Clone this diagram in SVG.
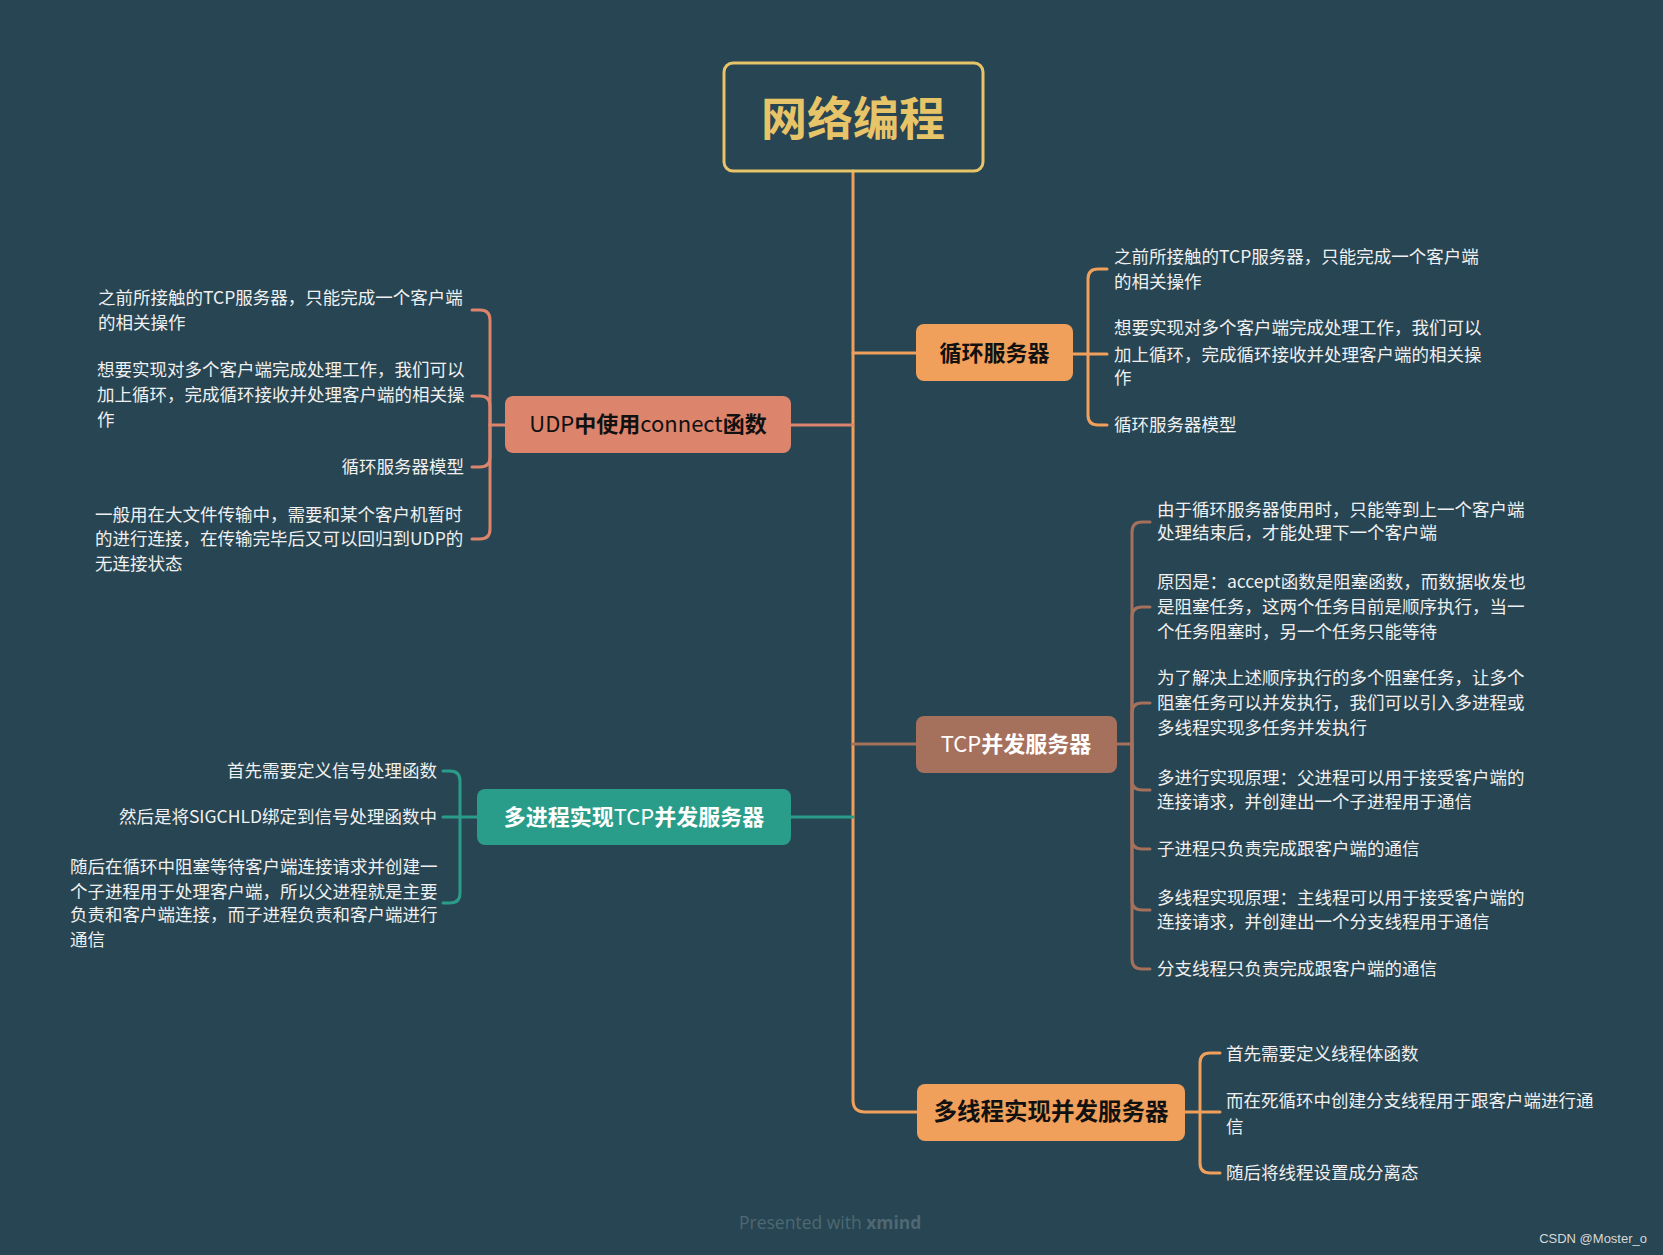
<svg xmlns="http://www.w3.org/2000/svg" width="1663" height="1255" viewBox="0 0 1663 1255">
<style>
.leaf{font-family:"Noto Sans CJK SC","Noto Sans",sans-serif;font-size:17.5px;fill:#f0f0f0}
.topic{font-family:"Noto Sans CJK SC","Noto Sans",sans-serif;text-anchor:middle}
.b{font-weight:bold}
.r{font-weight:normal}
.ln{fill:none;stroke-width:3;stroke-linecap:round}
.or{stroke:#f0a05a}
.sa{stroke:#dc846c}
.br{stroke:#a5705c}
.te{stroke:#2a9d8a}
</style>
<rect width="1663" height="1255" fill="#274552"/>
<g id="connectors">
  <path class="ln or" d="M853 171 V1100 Q853 1112 865 1112 H917"/>
  <path class="ln or" d="M853 353 H916"/>
  <path class="ln sa" d="M853 425 H791"/>
  <path class="ln br" d="M853 744 H916"/>
  <path class="ln te" d="M853 817 H791"/>
  <!-- UDP -->
  <path class="ln sa" d="M505 425 H490"/>
  <path class="ln sa" d="M490 425 V320 Q490 310 480 310 H472"/>
  <path class="ln sa" d="M490 425 V406 Q490 396 480 396 H472"/>
  <path class="ln sa" d="M490 425 V457 Q490 467 480 467 H472"/>
  <path class="ln sa" d="M490 425 V529 Q490 539 480 539 H472"/>
  <!-- 循环服务器 -->
  <path class="ln or" d="M1073 354 H1107"/>
  <path class="ln or" d="M1088 354 V279 Q1088 269 1098 269 H1107"/>
  <path class="ln or" d="M1088 354 V415 Q1088 425 1098 425 H1107"/>
  <!-- TCP -->
  <path class="ln br" d="M1117 744 H1132"/>
  <path class="ln br" d="M1132 744 V532 Q1132 522 1142 522 H1150"/>
  <path class="ln br" d="M1132 744 V617 Q1132 607 1142 607 H1150"/>
  <path class="ln br" d="M1132 744 V713 Q1132 703 1142 703 H1150"/>
  <path class="ln br" d="M1132 744 V780 Q1132 790 1142 790 H1150"/>
  <path class="ln br" d="M1132 744 V839 Q1132 849 1142 849 H1150"/>
  <path class="ln br" d="M1132 744 V900 Q1132 910 1142 910 H1150"/>
  <path class="ln br" d="M1132 744 V959 Q1132 969 1142 969 H1150"/>
  <!-- 多进程 -->
  <path class="ln te" d="M477 817 H443"/>
  <path class="ln te" d="M460 817 V781 Q460 771 450 771 H443"/>
  <path class="ln te" d="M460 817 V893 Q460 903 450 903 H443"/>
  <!-- 多线程 -->
  <path class="ln or" d="M1185 1112 H1220"/>
  <path class="ln or" d="M1200 1112 V1063 Q1200 1053 1210 1053 H1220"/>
  <path class="ln or" d="M1200 1112 V1163 Q1200 1173 1210 1173 H1220"/>
</g>
<g id="root">
  <rect x="724" y="63" width="259" height="108" rx="9" fill="none" stroke="#e8c468" stroke-width="3"/>
  <text class="topic b" x="853" y="135" font-size="46" fill="#e8c468">网络编程</text>
</g>
<g id="udp">
  <rect x="505" y="396" width="286" height="57" rx="8" fill="#dc846c"/>
  <text class="topic" x="648" y="432" font-size="22" fill="#111"><tspan class="r">UDP</tspan><tspan class="b">中使用</tspan><tspan class="r">connect</tspan><tspan class="b">函数</tspan></text>
</g>
<g id="udp-items">
  <text class="leaf" x="98" y="304">之前所接触的TCP服务器，只能完成一个客户端</text>
  <text class="leaf" x="98" y="329">的相关操作</text>
  <text class="leaf" x="97" y="376">想要实现对多个客户端完成处理工作，我们可以</text>
  <text class="leaf" x="97" y="401">加上循环，完成循环接收并处理客户端的相关操</text>
  <text class="leaf" x="97" y="426">作</text>
  <text class="leaf" x="464" y="473" text-anchor="end">循环服务器模型</text>
  <text class="leaf" x="95" y="521">一般用在大文件传输中，需要和某个客户机暂时</text>
  <text class="leaf" x="95" y="545">的进行连接，在传输完毕后又可以回归到UDP的</text>
  <text class="leaf" x="95" y="570">无连接状态</text>
</g>
<g id="loop-server">
  <rect x="916" y="324" width="157" height="57" rx="8" fill="#f0a05a"/>
  <text class="topic b" x="994.5" y="361" font-size="22" fill="#111">循环服务器</text>
</g>
<g id="loop-items">
  <text class="leaf" x="1114" y="263">之前所接触的TCP服务器，只能完成一个客户端</text>
  <text class="leaf" x="1114" y="288">的相关操作</text>
  <text class="leaf" x="1114" y="334">想要实现对多个客户端完成处理工作，我们可以</text>
  <text class="leaf" x="1114" y="361">加上循环，完成循环接收并处理客户端的相关操</text>
  <text class="leaf" x="1114" y="384">作</text>
  <text class="leaf" x="1114" y="431">循环服务器模型</text>
</g>
<g id="tcp">
  <rect x="916" y="716" width="201" height="57" rx="8" fill="#a5705c"/>
  <text class="topic" x="1016" y="752" font-size="22" fill="#fff"><tspan class="r">TCP</tspan><tspan class="b">并发服务器</tspan></text>
</g>
<g id="tcp-items">
  <text class="leaf" x="1157" y="516">由于循环服务器使用时，只能等到上一个客户端</text>
  <text class="leaf" x="1157" y="539">处理结束后，才能处理下一个客户端</text>
  <text class="leaf" x="1157" y="588">原因是：accept函数是阻塞函数，而数据收发也</text>
  <text class="leaf" x="1157" y="613">是阻塞任务，这两个任务目前是顺序执行，当一</text>
  <text class="leaf" x="1157" y="638">个任务阻塞时，另一个任务只能等待</text>
  <text class="leaf" x="1157" y="684">为了解决上述顺序执行的多个阻塞任务，让多个</text>
  <text class="leaf" x="1157" y="709">阻塞任务可以并发执行，我们可以引入多进程或</text>
  <text class="leaf" x="1157" y="734">多线程实现多任务并发执行</text>
  <text class="leaf" x="1157" y="784">多进行实现原理：父进程可以用于接受客户端的</text>
  <text class="leaf" x="1157" y="808">连接请求，并创建出一个子进程用于通信</text>
  <text class="leaf" x="1157" y="855">子进程只负责完成跟客户端的通信</text>
  <text class="leaf" x="1157" y="904">多线程实现原理：主线程可以用于接受客户端的</text>
  <text class="leaf" x="1157" y="928">连接请求，并创建出一个分支线程用于通信</text>
  <text class="leaf" x="1157" y="975">分支线程只负责完成跟客户端的通信</text>
</g>
<g id="multiprocess">
  <rect x="477" y="789" width="314" height="56" rx="8" fill="#2a9d8a"/>
  <text class="topic" x="634" y="825" font-size="22" fill="#fff"><tspan class="b">多进程实现</tspan><tspan class="r">TCP</tspan><tspan class="b">并发服务器</tspan></text>
</g>
<g id="multiprocess-items">
  <text class="leaf" x="437" y="777" text-anchor="end">首先需要定义信号处理函数</text>
  <text class="leaf" x="437" y="823" text-anchor="end">然后是将SIGCHLD绑定到信号处理函数中</text>
  <text class="leaf" x="70" y="873">随后在循环中阻塞等待客户端连接请求并创建一</text>
  <text class="leaf" x="70" y="898">个子进程用于处理客户端，所以父进程就是主要</text>
  <text class="leaf" x="70" y="921">负责和客户端连接，而子进程负责和客户端进行</text>
  <text class="leaf" x="70" y="946">通信</text>
</g>
<g id="multithread">
  <rect x="917" y="1084" width="268" height="57" rx="8" fill="#f0a05a"/>
  <text class="topic b" x="1051" y="1120" font-size="23.5" fill="#111">多线程实现并发服务器</text>
</g>
<g id="multithread-items">
  <text class="leaf" x="1226" y="1060">首先需要定义线程体函数</text>
  <text class="leaf" x="1226" y="1107">而在死循环中创建分支线程用于跟客户端进行通</text>
  <text class="leaf" x="1226" y="1133">信</text>
  <text class="leaf" x="1226" y="1179">随后将线程设置成分离态</text>
</g>
<g id="footer">
  <text x="739" y="1229" font-family="'Open Sans','Liberation Sans',sans-serif" font-size="17.5" fill="#4f6873">Presented with <tspan font-weight="bold">xmind</tspan></text>
  <text x="1647" y="1243" text-anchor="end" font-family="'Liberation Sans',sans-serif" font-size="13" fill="#d8d8d8">CSDN @Moster_o</text>
</g>
</svg>
